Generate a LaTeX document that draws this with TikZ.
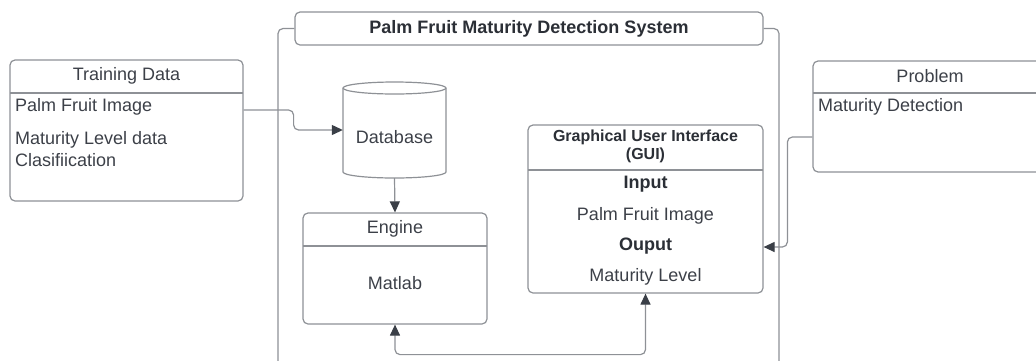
\documentclass[tikz,border=0pt]{standalone}
\usepackage{fontspec}
\setmainfont{Liberation Sans}
\usetikzlibrary{arrows.meta}
\definecolor{linec}{HTML}{8E9196}
\definecolor{textc}{HTML}{3C4048}
\definecolor{darkc}{HTML}{2B2F36}
\definecolor{tipc}{HTML}{3A3F47}
\tikzset{
  box/.style={draw=linec, line width=1.2pt, rounded corners=5pt, inner sep=0pt, fill=none},
  txt/.style={text=textc, font=\fontsize{18}{22}\selectfont, inner sep=0pt},
  btxt/.style={text=darkc, font=\fontsize{18}{22}\selectfont\bfseries, inner sep=0pt},
  conn/.style={draw=linec, line width=1.2pt, rounded corners=5pt},
  tip/.tip={Triangle[length=11pt,width=10pt,fill=tipc,color=tipc]},
  arr/.style={conn, -tip},
  arrboth/.style={conn, tip-tip},
  sep/.style={draw=linec, line width=1.2pt},
}
\begin{document}
\begin{tikzpicture}[x=1pt,y=-1pt]
\useasboundingbox (0,0) rectangle (1036,360);

% Training data
\node[box, minimum width=233pt, minimum height=141pt] (train) at (126.5,130.5) {};
\draw[sep] (10,93) -- (243,93);
\node[txt] (trainh) at (126.5,76) {Training Data};
\node[txt, anchor=west] (train1) at (15,107) {Palm Fruit Image};
\node[txt, anchor=west, align=left] (train2) at (15,149) {Maturity Level data\\Clasifiication};

% System title and frame
\node[box, minimum width=468pt, minimum height=33pt] (title) at (529,28.5) {};
\node[btxt] (titlet) at (529,29) {Palm Fruit Maturity Detection System};
\draw[conn] (title.west) -| (278,370);
\draw[conn] (title.east) -| (779,370);

% Database cylinder
\node[minimum width=103pt, minimum height=96pt, inner sep=0pt] (db) at (394.5,130) {};
\draw[draw=linec, line width=1.2pt, fill=white]
  (343,88) -- (343,172) arc[start angle=180, end angle=0, x radius=51.5, y radius=6]
  -- (446,88) arc[start angle=0, end angle=-180, x radius=51.5, y radius=6] -- cycle;
\draw[draw=linec, line width=1.2pt] (343,88) arc[start angle=180, end angle=0, x radius=51.5, y radius=6];
\node[txt] (dbt) at (394.5,137) {Database};

% Engine
\node[box, minimum width=184pt, minimum height=111pt] (engine) at (395,268.5) {};
\draw[sep] (303,246) -- (487,246);
\node[txt] (engh) at (395,228.5) {Engine};
\node[txt] (engb) at (395,283.5) {Matlab};

% GUI
\node[box, minimum width=235pt, minimum height=168pt] (gui) at (645.5,209) {};
\draw[sep] (528,170) -- (763,170);
\node[text=darkc, font=\fontsize{16}{18}\selectfont\bfseries, align=center, inner sep=0pt] (guih) at (645.5,146) {Graphical User Interface\\(GUI)};
\node[btxt] (guiin) at (645.5,184) {Input};
\node[txt] (guiin2) at (645.5,215.5) {Palm Fruit Image};
\node[btxt] (guiout) at (645.5,246.5) {Ouput};
\node[txt] (guiout2) at (645.5,277) {Maturity Level};

% Problem
\node[box, minimum width=234pt, minimum height=111pt] (problem) at (930,116.5) {};
\draw[sep] (813,93) -- (1047,93);
\node[txt] (probh) at (930,76) {Problem};
\node[txt, anchor=west] (prob1) at (818,107) {Maturity Detection};

% Connectors
\draw[arr] ([yshift=20.5pt]train.east) -- ++(50,0) |- (db.west);
\draw[arr] (db.south |- 0,178) -- (engine.north);
\draw[arr] ([yshift=-20.5pt]problem.west) -- ++(-25,0) |- ([yshift=-38pt]gui.east);
\draw[arrboth] (engine.south) -- ++(0,30) -| (gui.south);
\end{tikzpicture}
\end{document}
